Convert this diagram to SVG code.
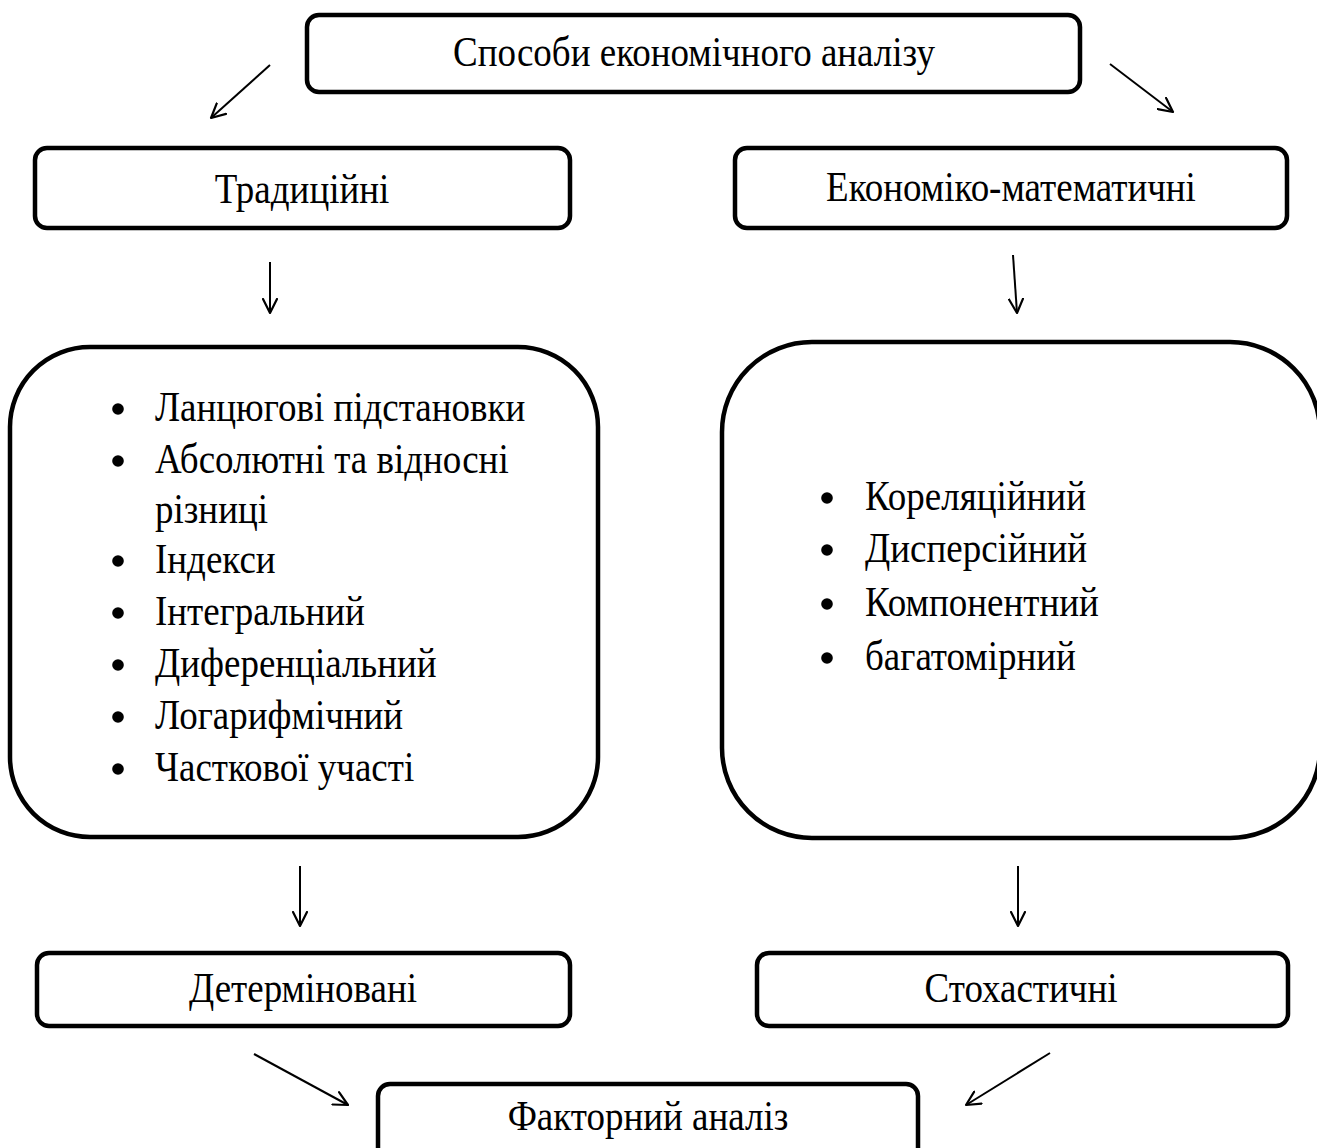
<svg xmlns="http://www.w3.org/2000/svg" width="1317" height="1148" viewBox="0 0 1317 1148">
<style>
.box{fill:#fff;stroke:#000;stroke-width:4.5}
.lbl{font-family:"Liberation Serif","Times New Roman",serif;font-size:37px;fill:#000;text-anchor:middle}
.li{font-family:"Liberation Serif","Times New Roman",serif;font-size:37px;fill:#000}
.con{stroke:#000;stroke-width:2;fill:none;marker-end:url(#ah)}
</style>
<defs>
<marker id="ah" markerWidth="16" markerHeight="16" refX="15" refY="8" orient="auto" markerUnits="userSpaceOnUse">
<path d="M1,1 L15,8 L1,15" fill="none" stroke="#000" stroke-width="2.2" stroke-linecap="round" stroke-linejoin="round"/>
</marker>
</defs>
<rect width="1317" height="1148" fill="#fff"/>
<g id="connectors">
<line class="con" x1="270" y1="65" x2="211" y2="118"/>
<line class="con" x1="1110" y1="64" x2="1173" y2="112"/>
<line class="con" x1="270" y1="262" x2="270" y2="313"/>
<line class="con" x1="1013" y1="255" x2="1017" y2="313"/>
<line class="con" x1="300" y1="866" x2="300" y2="926"/>
<line class="con" x1="1018" y1="866" x2="1018" y2="926"/>
<line class="con" x1="254" y1="1054" x2="348" y2="1105"/>
<line class="con" x1="1050" y1="1053" x2="966" y2="1105"/>
</g>
<g id="n-root">
<rect class="box" x="307" y="15" width="773" height="77" rx="12"/>
<text class="lbl" x="694" y="66" transform="matrix(1 0 0 1.15 0 -9.9)">Способи економічного аналізу</text>
</g>
<g id="n-trad">
<rect class="box" x="35" y="148" width="535" height="80" rx="12"/>
<text class="lbl" x="302" y="203" transform="matrix(1 0 0 1.15 0 -30.45)">Традиційні</text>
</g>
<g id="n-econ">
<rect class="box" x="735" y="148" width="552" height="80" rx="12"/>
<text class="lbl" x="1011" y="201" transform="matrix(1 0 0 1.15 0 -30.15)">Економіко-математичні</text>
</g>
<g id="n-tradlist">
<rect class="box" x="10" y="347" width="588" height="490" rx="80"/>
<g fill="#000">
<circle cx="118" cy="409" r="5.8"/><circle cx="118" cy="461" r="5.8"/><circle cx="118" cy="561" r="5.8"/><circle cx="118" cy="613" r="5.8"/><circle cx="118" cy="665" r="5.8"/><circle cx="118" cy="717" r="5.8"/><circle cx="118" cy="769" r="5.8"/>
</g>
<text class="li" x="155" y="421" transform="matrix(1 0 0 1.15 0 -63.15)">Ланцюгові підстановки</text>
<text class="li" x="155" y="473" transform="matrix(1 0 0 1.15 0 -70.95)">Абсолютні та відносні</text>
<text class="li" x="155" y="523" transform="matrix(1 0 0 1.15 0 -78.45)">різниці</text>
<text class="li" x="155" y="573" transform="matrix(1 0 0 1.15 0 -85.95)">Індекси</text>
<text class="li" x="155" y="625" transform="matrix(1 0 0 1.15 0 -93.75)">Інтегральний</text>
<text class="li" x="155" y="677" transform="matrix(1 0 0 1.15 0 -101.55)">Диференціальний</text>
<text class="li" x="155" y="729" transform="matrix(1 0 0 1.15 0 -109.35)">Логарифмічний</text>
<text class="li" x="155" y="781" transform="matrix(1 0 0 1.15 0 -117.15)">Часткової участі</text>
</g>
<g id="n-econlist">
<rect class="box" x="722" y="342" width="598" height="496" rx="90"/>
<g fill="#000">
<circle cx="827" cy="498" r="5.8"/><circle cx="827" cy="550" r="5.8"/><circle cx="827" cy="604" r="5.8"/><circle cx="827" cy="658" r="5.8"/>
</g>
<text class="li" x="865" y="510" transform="matrix(1 0 0 1.15 0 -76.5)">Кореляційний</text>
<text class="li" x="865" y="562" transform="matrix(1 0 0 1.15 0 -84.3)">Дисперсійний</text>
<text class="li" x="865" y="616" transform="matrix(1 0 0 1.15 0 -92.4)">Компонентний</text>
<text class="li" x="865" y="670" transform="matrix(1 0 0 1.15 0 -100.5)">багатомірний</text>
</g>
<g id="n-det">
<rect class="box" x="37" y="953" width="533" height="73" rx="12"/>
<text class="lbl" x="303" y="1002" transform="matrix(1 0 0 1.15 0 -150.3)">Детерміновані</text>
</g>
<g id="n-stoch">
<rect class="box" x="757" y="953" width="531" height="73" rx="12"/>
<text class="lbl" x="1021" y="1002" transform="matrix(1 0 0 1.15 0 -150.3)">Стохастичні</text>
</g>
<g id="n-factor">
<rect class="box" x="378" y="1084" width="540" height="90" rx="12"/>
<text class="lbl" x="648" y="1130" transform="matrix(1 0 0 1.15 0 -169.5)">Факторний аналіз</text>
</g>
</svg>
